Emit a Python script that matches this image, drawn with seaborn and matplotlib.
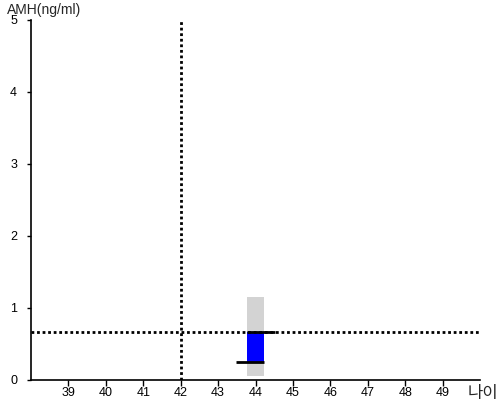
import pandas as pd
import seaborn as sns
import matplotlib.pyplot as plt

# AMH result for one patient, age 44
age = [44]
range_low = [0.05]     # grey reference band
range_high = [1.15]
amh_low = [0.25]       # blue bar
amh_high = [0.67]
ref_age = 42
ref_amh = 0.67
x_ticks = list(range(39, 50))
y_ticks = [0, 1, 2, 3, 4, 5]

sns.set_style('ticks')
plt.rcParams['font.family'] = ['Liberation Sans', 'Noto Sans CJK KR', 'DejaVu Sans']

fig = plt.figure(figsize=(5, 4), dpi=100)
ax = fig.add_axes([0.062, 0.05, 0.898, 0.90])

band = pd.DataFrame({'age': age, 'h': [range_high[0] - range_low[0]]})
sns.barplot(data=band, x='age', y='h', native_scale=True, width=0.43,
            color='#d3d3d3', saturation=1, bottom=range_low[0],
            linewidth=0, ax=ax)
bar = pd.DataFrame({'age': age, 'h': [amh_high[0] - amh_low[0]]})
sns.barplot(data=bar, x='age', y='h', native_scale=True, width=0.43,
            color='#0000ff', saturation=1, bottom=amh_low[0],
            linewidth=0, ax=ax)

half = 0.215
ax.hlines(amh_high[0], age[0] - half, age[0] + half + 0.3, color='black', lw=2, zorder=5)
ax.hlines(amh_low[0], age[0] - half - 0.3, age[0] + half, color='black', lw=2, zorder=5)

ax.axhline(ref_amh, color='black', lw=2, linestyle=(0, (1, 1)), zorder=4)
ax.axvline(ref_age, color='black', lw=2, linestyle=(0, (1, 1)), zorder=4)

ax.set_xlim(38, 50)
ax.set_ylim(0, 5)
ax.set_xticks(x_ticks)
ax.set_yticks(y_ticks)
ax.set_xlabel('')
ax.set_ylabel('')
ax.tick_params(labelsize=9, length=4, width=1, colors='black')
ax.tick_params(axis='x', pad=1)
ax.tick_params(axis='y', length=3, pad=7)
for s in ['top', 'right']:
    ax.spines[s].set_visible(False)
for s in ['left', 'bottom']:
    ax.spines[s].set_linewidth(1.2)
    ax.spines[s].set_color('black')

fig.text(0.014, 0.975, 'AMH(ng/ml)', fontsize=10, va='center', ha='left')
fig.text(0.996, 0.016, '나이', fontsize=12, va='center', ha='right')

fig.savefig('out.png', dpi=100)
